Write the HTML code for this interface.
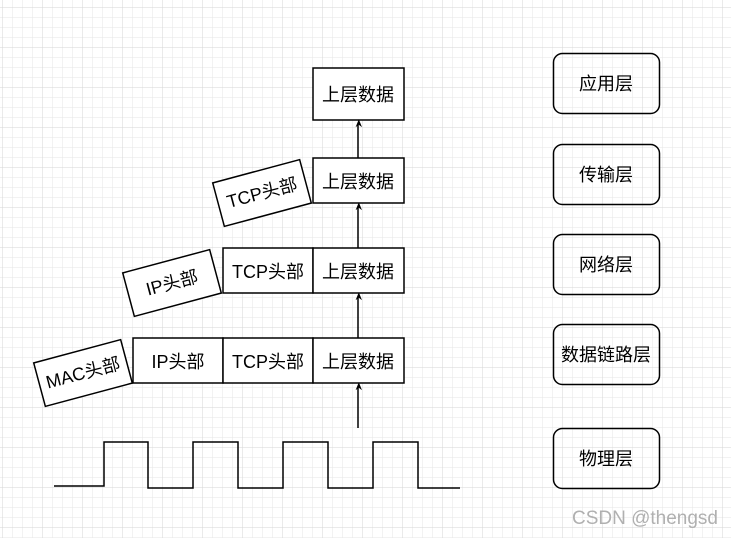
<!DOCTYPE html>
<html><head><meta charset="utf-8"><style>
html,body{margin:0;padding:0;background:#fff}
svg{display:block}
text{font-family:"Liberation Sans","Noto Sans CJK SC",sans-serif;font-size:18px;fill:#000}
</style></head><body>
<svg width="731" height="538" viewBox="0 0 731 538" xmlns="http://www.w3.org/2000/svg">
<defs>
<pattern id="g" width="10" height="10" patternUnits="userSpaceOnUse" x="3" y="8">
<path d="M10 0V10M0 10H10" fill="none" stroke="#e6e6e6" stroke-width="1"/>
</pattern>
<pattern id="G" width="40" height="40" patternUnits="userSpaceOnUse" x="3" y="8">
<path d="M40 0V40M0 40H40" fill="none" stroke="#d6d6d6" stroke-width="1"/>
</pattern>
<marker id="a" markerWidth="8" markerHeight="8" refX="4" refY="4" orient="auto" markerUnits="userSpaceOnUse" viewBox="0 0 10 10">
<path d="M0 1L10 5L0 9L3 5Z" fill="#000" transform="translate(0,0)"/>
</marker>
</defs>
<rect width="731" height="538" fill="url(#g)"/>
<rect width="731" height="538" fill="url(#G)"/>
<g stroke="#000" stroke-width="1.5" fill="#fff">
<rect x="313" y="68" width="91" height="52"/>
<rect x="313" y="158" width="91" height="45"/>
<rect x="223" y="248" width="90" height="45"/>
<rect x="313" y="248" width="91" height="45"/>
<rect x="133" y="338" width="90" height="45"/>
<rect x="223" y="338" width="90" height="45"/>
<rect x="313" y="338" width="91" height="45"/>
<rect x="217" y="170.5" width="90" height="45" transform="rotate(-15 262 193)"/>
<rect x="127" y="260.5" width="90" height="45" transform="rotate(-15 172 283)"/>
<rect x="38" y="350.5" width="90" height="45" transform="rotate(-15 83 373)"/>
</g>
<g stroke="#000" stroke-width="1.5" fill="none">
<line x1="358" y1="158" x2="358" y2="124" marker-end="url(#a)"/>
<line x1="358" y1="248" x2="358" y2="207" marker-end="url(#a)"/>
<line x1="358" y1="338" x2="358" y2="297" marker-end="url(#a)"/>
<line x1="358" y1="428" x2="358" y2="387" marker-end="url(#a)"/>
<polyline points="54,486 104,486 104,442 148,442 148,488 193,488 193,442 238,442 238,488 283,488 283,442 328,442 328,488 373,488 373,442 418,442 418,488 460,488"/>
<rect x="553.5" y="53.5" width="106" height="60" rx="9"/>
<rect x="553.5" y="144.5" width="106" height="60" rx="9"/>
<rect x="553.5" y="234.5" width="106" height="60" rx="9"/>
<rect x="553.5" y="324.5" width="106" height="60" rx="9"/>
<rect x="553.5" y="428.5" width="106" height="60" rx="9"/>
</g>
<g text-anchor="middle">
<text x="358" y="101">上层数据</text>
<text x="358" y="188">上层数据</text>
<text x="268" y="278">TCP头部</text>
<text x="358" y="278">上层数据</text>
<text x="178" y="368">IP头部</text>
<text x="268" y="368">TCP头部</text>
<text x="358" y="368">上层数据</text>
<text x="262" y="199" transform="rotate(-15 262 193)">TCP头部</text>
<text x="172" y="289" transform="rotate(-15 172 283)">IP头部</text>
<text x="83" y="379" transform="rotate(-15 83 373)">MAC头部</text>
<text x="606" y="90">应用层</text>
<text x="606" y="181">传输层</text>
<text x="606" y="271">网络层</text>
<text x="606" y="361">数据链路层</text>
<text x="606" y="465">物理层</text>
</g>
<text x="572" y="524" textLength="146" lengthAdjust="spacingAndGlyphs" style="font-size:19px;fill:#b0b0b0">CSDN @thengsd</text>
</svg>
</body></html>
